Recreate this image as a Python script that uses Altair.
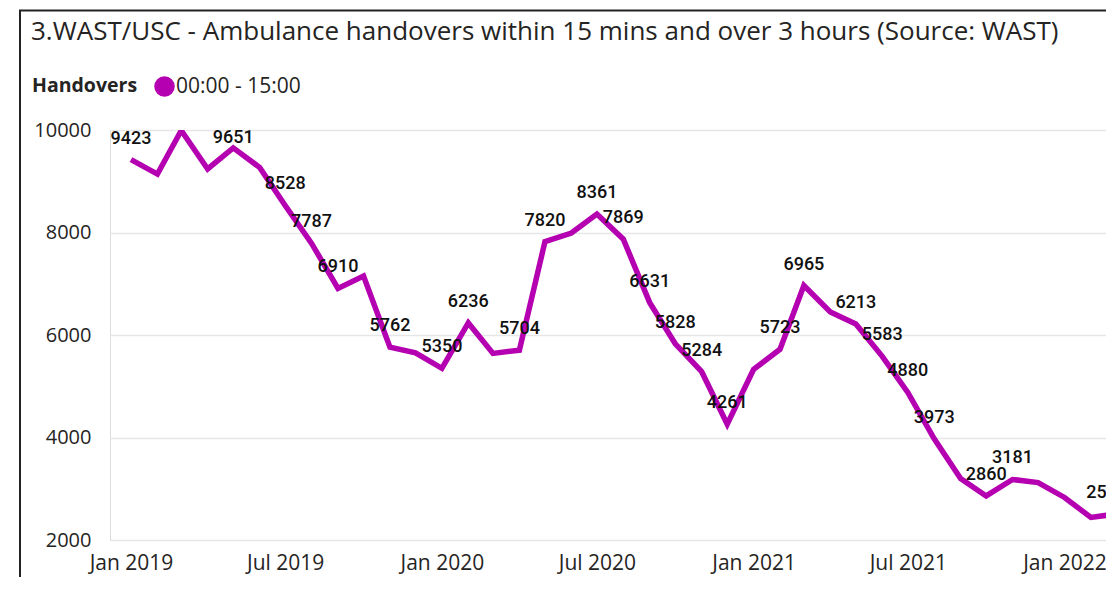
import altair as alt
import pandas as pd

# ---- data ----
months = [
    "2019-01", "2019-02", "2019-03", "2019-04", "2019-05", "2019-06",
    "2019-07", "2019-08", "2019-09", "2019-10", "2019-11", "2019-12",
    "2020-01", "2020-02", "2020-03", "2020-04", "2020-05", "2020-06",
    "2020-07", "2020-08", "2020-09", "2020-10", "2020-11", "2020-12",
    "2021-01", "2021-02", "2021-03", "2021-04", "2021-05", "2021-06",
    "2021-07", "2021-08", "2021-09", "2021-10", "2021-11", "2021-12",
    "2022-01", "2022-02", "2022-03",
]
handovers = [
    9423, 9140, 9990, 9240, 9651, 9270,
    8528, 7787, 6910, 7150, 5762, 5650,
    5350, 6236, 5640, 5704, 7820, 7990,
    8361, 7869, 6631, 5828, 5284, 4261,
    5330, 5723, 6965, 6450, 6213, 5583,
    4880, 3973, 3200, 2860, 3181, 3120,
    2830, 2440, 2504,
]
# months whose value is printed as a data label
labelled_months = [
    "2019-01", "2019-05", "2019-07", "2019-08", "2019-09", "2019-11",
    "2020-01", "2020-02", "2020-04", "2020-05", "2020-07", "2020-08",
    "2020-09", "2020-10", "2020-11", "2020-12",
    "2021-02", "2021-03", "2021-05", "2021-06", "2021-07", "2021-08",
    "2021-10", "2021-11", "2022-03",
]
edge_month = "2022-03"  # its label is nudged left of its point, as in the reference
series_name = "00:00 - 15:00"
legend_title = "Handovers"
title_text = "3.WAST/USC - Ambulance handovers within 15 mins and over 3 hours (Source: WAST)"
y_ticks = [2000, 4000, 6000, 8000, 10000]
x_tick_months = [(2019, 1), (2019, 7), (2020, 1), (2020, 7), (2021, 1), (2021, 7), (2022, 1)]

MAG = "#B400B0"
TXT = "#252423"

df = pd.DataFrame({
    "month": [m + "-01T00:00:00" for m in months],
    "key": months,
    "value": handovers,
    "series": series_name,
    "label": [str(v) if m in labelled_months else "" for m, v in zip(months, handovers)],
})

x_enc = alt.X(
    "month:T",
    scale=alt.Scale(domain=[alt.DateTime(year=2018, month=12, date=7, hours=8),
                            alt.DateTime(year=2022, month=2, date=18, hours=17)]),
    axis=alt.Axis(
        values=[alt.DateTime(year=y, month=m, date=1) for y, m in x_tick_months],
        format="%b %Y", title=None, grid=False, domain=False, ticks=False, tickSize=0,
        labelPadding=29, labelBaseline="alphabetic", labelFont="Open Sans",
        labelFontSize=21, labelColor=TXT, labelFlush=False, labelOverlap=False,
    ),
)
y_enc = alt.Y(
    "value:Q",
    scale=alt.Scale(domain=[2000, 10000], nice=False, zero=False),
    axis=alt.Axis(
        values=y_ticks, format="d", title=None, domain=False, ticks=False,
        labelPadding=19, labelFont="Open Sans", labelFontSize=20, labelColor=TXT,
        gridColor="#e6e6e6", gridWidth=1.5,
    ),
)

base = alt.Chart(df)

line = base.mark_line(strokeWidth=5.5, clip=True, strokeJoin="miter").encode(
    x=x_enc,
    y=y_enc,
    color=alt.Color(
        "series:N",
        scale=alt.Scale(range=[MAG]),
        legend=alt.Legend(
            title=legend_title, orient="none", legendX=-78, legendY=-54,
            direction="horizontal", titleOrient="left", titleFont="Open Sans",
            titleFontSize=19.5, titleFontWeight="bold", titleColor=TXT, titlePadding=16,
            titleBaseline="middle",
            labelFont="Open Sans", labelFontSize=21, labelColor=TXT, labelOffset=1,
            symbolType="circle", symbolSize=420, symbolFillColor=MAG,
            symbolStrokeWidth=0, symbolOpacity=1,
        ),
    ),
)

text_style = dict(dy=-16, baseline="alphabetic", font="Roboto", fontSize=18,
                  fontWeight=500, color="#111111", clip=True)

labels = base.transform_filter(
    f"datum.label != '' && datum.key != '{edge_month}'"
).transform_calculate(
    ly="min(datum.value, 9430)"
).mark_text(**text_style).encode(
    x=alt.X("month:T"),
    y=alt.Y("ly:Q"),
    text="label:N",
)

edge_label = base.transform_filter(
    f"datum.key == '{edge_month}'"
).mark_text(dx=-8, **text_style).encode(
    x=alt.X("month:T"),
    y=alt.Y("value:Q"),
    text="label:N",
)

frame_df = pd.DataFrame({"k": [0]})
frame_left = alt.Chart(frame_df).mark_rule(color="#222222", strokeWidth=2).encode(
    x=alt.value(-90), y=alt.value(-119.5), y2=alt.value(460)
)
frame_top = alt.Chart(frame_df).mark_rule(color="#222222", strokeWidth=2).encode(
    x=alt.value(-91), x2=alt.value(996), y=alt.value(-119.5)
)

chart = alt.layer(line, labels, edge_label, frame_left, frame_top).properties(
    width=996,
    height=410,
    padding={"left": 102, "top": 122, "right": 0, "bottom": 37},
    autosize=alt.AutoSizeParams(type="none"),
    title=alt.TitleParams(
        text=title_text, anchor="start", dx=13, dy=56, fontSize=26, font="Open Sans",
        fontWeight="normal", color=TXT, offset=0, baseline="alphabetic",
    ),
).configure_view(stroke=None).configure(background="white")

chart.save("out.html", embed_options={"renderer": "svg", "actions": False})
